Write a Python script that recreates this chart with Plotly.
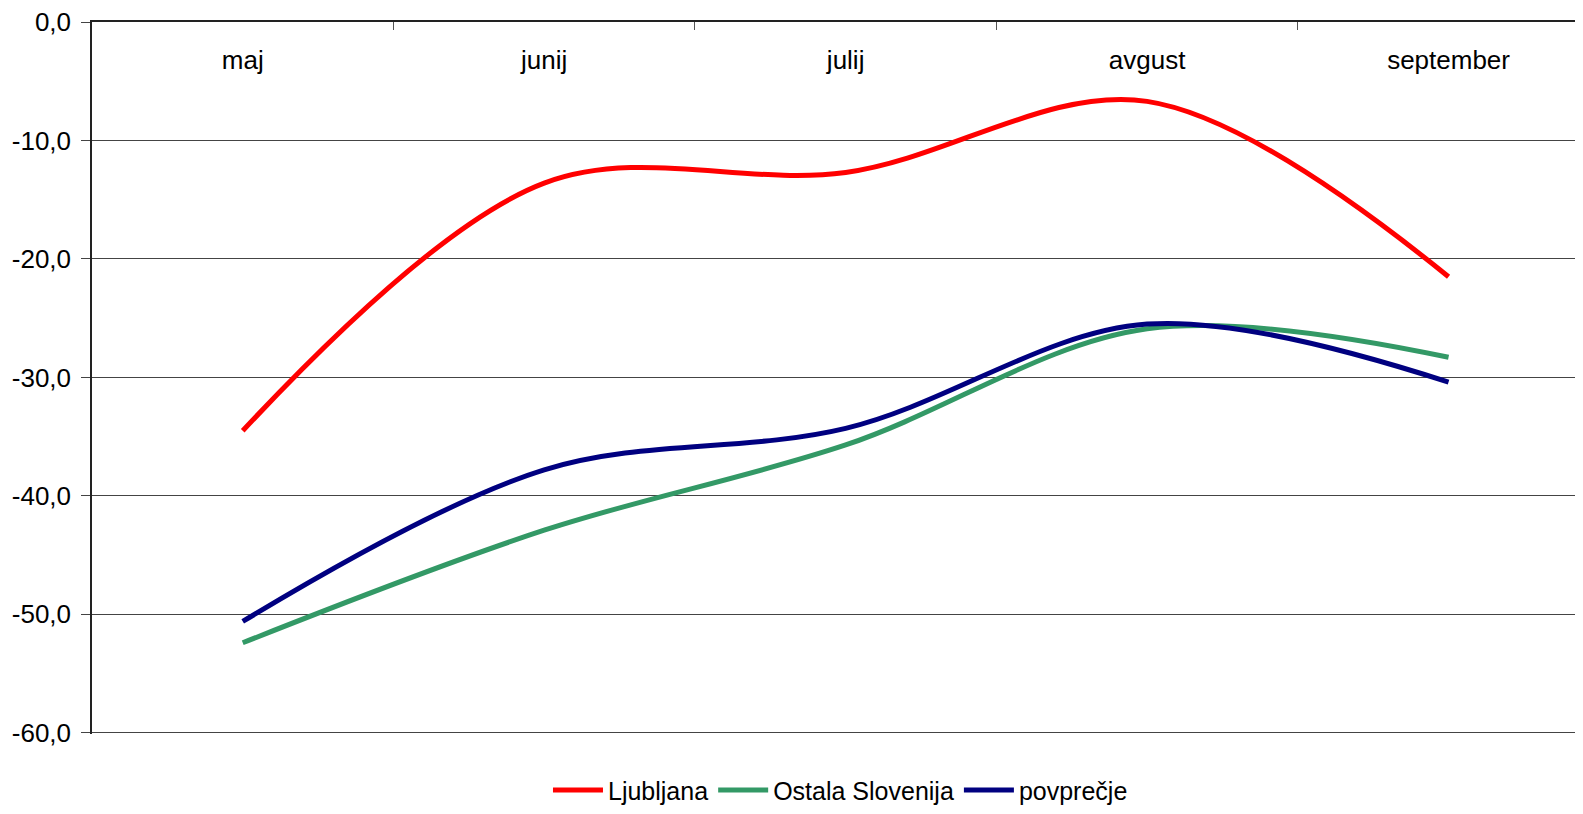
import plotly.graph_objects as go

months = ["maj", "junij", "julij", "avgust", "september"]
ljubljana = [-34.5, -13.6, -12.7, -6.7, -21.5]
ostala = [-52.4, -42.9, -35.7, -25.9, -28.3]
povprecje = [-50.6, -37.8, -34.3, -25.5, -30.4]
y_ticks = [0, -10, -20, -30, -40, -50, -60]
y_ticktext = ["0,0", "-10,0", "-20,0", "-30,0", "-40,0", "-50,0", "-60,0"]

series = [
    ("Ljubljana", ljubljana, "#FF0000"),
    ("Ostala Slovenija", ostala, "#339966"),
    ("povprečje", povprecje, "#000080"),
]

fig = go.Figure()
for name, vals, color in series:
    fig.add_trace(go.Scatter(
        x=months, y=vals, name=name, mode="lines",
        line=dict(color=color, width=5, shape="spline", smoothing=1.0),
    ))

FONT = "Liberation Sans, Arial, sans-serif"
# The page body has an 8px margin, so the figure is sized to fill the window from (8, 8).
fig.update_layout(
    width=1575, height=806,
    margin=dict(l=84, r=0, t=14, b=80),
    plot_bgcolor="white", paper_bgcolor="white",
    font=dict(family=FONT, color="#000000"),
    showlegend=True,
    legend=dict(orientation="h", x=0.502, xanchor="center", y=-0.079, yanchor="middle",
                font=dict(size=25, family=FONT), itemwidth=50, tracegroupgap=0),
    xaxis=dict(
        type="category", categoryorder="array", categoryarray=months,
        range=[-0.5, 4.446], side="top", automargin=False,
        showline=True, linecolor="#222222", linewidth=1.5,
        ticks="inside", tickson="boundaries", ticklen=8, tickcolor="#555555",
        ticklabelposition="outside", ticklabelstandoff=-59,
        tickfont=dict(size=26, family=FONT, color="#000000"),
        showgrid=False, zeroline=False,
    ),
    yaxis=dict(
        range=[-60.1, 0], tickmode="array", tickvals=y_ticks, ticktext=y_ticktext,
        automargin=False, ticklabeloverflow="allow",
        showline=True, linecolor="#222222", linewidth=1.5,
        ticks="outside", ticklen=9, tickcolor="#444444",
        ticklabelstandoff=5,
        tickfont=dict(size=26, family=FONT, color="#000000"),
        showgrid=True, gridcolor="#444444", gridwidth=1,
        zeroline=False,
    ),
)

fig.write_html("out.html")
